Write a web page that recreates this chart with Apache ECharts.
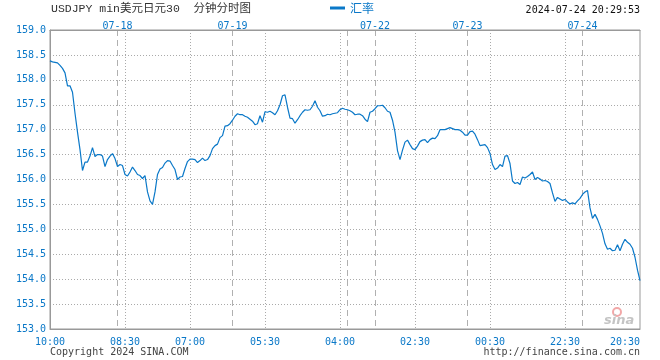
<!DOCTYPE html>
<html><head><meta charset="utf-8">
<script src="https://cdn.jsdelivr.net/npm/echarts@6/dist/echarts.min.js"></script>
<style>html,body{margin:0;padding:0;background:#fff}#c{width:660px;height:360px}</style>
</head><body><div id="c"></div>
<script>
// USDJPY 30-minute rates
const rates = [
158.38,158.36,158.35,158.34,158.29,158.23,158.14,157.88,157.88,157.75,
157.33,156.95,156.60,156.18,156.35,156.35,156.47,156.64,156.46,156.50,
156.50,156.47,156.26,156.40,156.47,156.52,156.42,156.26,156.30,156.28,
156.10,156.07,156.15,156.25,156.18,156.10,156.08,156.02,156.08,155.75,
155.57,155.50,155.75,156.10,156.21,156.24,156.33,156.38,156.37,156.28,
156.20,156.00,156.05,156.06,156.22,156.36,156.41,156.41,156.40,156.34,
156.38,156.43,156.38,156.40,156.48,156.62,156.68,156.71,156.84,156.88,
157.07,157.08,157.12,157.19,157.27,157.32,157.30,157.30,157.27,157.25,
157.21,157.17,157.10,157.12,157.28,157.15,157.36,157.35,157.37,157.34,
157.30,157.38,157.50,157.68,157.70,157.45,157.23,157.22,157.13,157.20,
157.28,157.35,157.40,157.39,157.40,157.47,157.58,157.45,157.38,157.27,
157.28,157.31,157.30,157.32,157.33,157.34,157.40,157.43,157.41,157.40,
157.38,157.35,157.30,157.31,157.31,157.28,157.21,157.16,157.35,157.37,
157.42,157.48,157.48,157.49,157.44,157.37,157.35,157.19,156.95,156.58,
156.40,156.59,156.75,156.79,156.70,156.62,156.60,156.67,156.76,156.79,
156.80,156.74,156.80,156.83,156.82,156.88,157.00,157.00,157.00,157.02,
157.04,157.02,157.00,157.00,156.99,156.95,156.89,156.89,156.96,156.97,
156.91,156.80,156.68,156.69,156.70,156.64,156.52,156.30,156.20,156.23,
156.30,156.26,156.47,156.48,156.32,155.97,155.92,155.94,155.90,156.05,
156.03,156.06,156.10,156.15,156.00,156.04,156.01,155.97,155.98,155.96,
155.92,155.73,155.56,155.64,155.61,155.58,155.60,155.55,155.51,155.53,
155.51,155.57,155.62,155.70,155.75,155.78,155.43,155.22,155.30,155.20,
155.07,154.92,154.71,154.60,154.62,154.57,154.58,154.69,154.57,154.70,
154.80,154.74,154.70,154.62,154.44,154.18,153.97
];
const timeTickIdx = [0, 30, 56, 86, 116, 146, 176, 206, 236];
const timeTickLabels = ['10:00','08:30','07:00','05:30','04:00','02:30','00:30','22:30','20:30'];
const dayTickIdx = [27, 73, 119, 130, 167, 213];
const dayTickLabels = ['07-18','07-19','','07-22','07-23','07-24'];
const yMin = 153.0, yMax = 159.0, yStep = 0.5;
const categories = rates.map((_, i) => String(i));

const BLUE = '#0a78c8';
const MONO = "'DejaVu Sans Mono', 'Liberation Mono', monospace";
const chart = echarts.init(document.getElementById('c'), null, {renderer: 'canvas'});
chart.setOption({
  animation: false,
  backgroundColor: '#fff',
  title: {
    text: 'USDJPY min美元日元30  分钟分时图',
    left: 51, top: 3, padding: 0,
    textStyle: {fontFamily: "'Liberation Mono', 'Noto Sans CJK SC', monospace", fontSize: 11.5, fontWeight: 'normal', color: '#333'}
  },
  legend: {
    data: ['汇率'], left: 330, top: 2, padding: 0,
    icon: 'rect', itemWidth: 15, itemHeight: 3, itemGap: 5,
    textStyle: {color: BLUE, fontSize: 12, fontFamily: "'Noto Sans CJK SC'", padding: [0, 0, 0, 0]}
  },
  grid: {left: 50, right: 20, top: 30, bottom: 31, show: true, borderColor: '#999', borderWidth: 1, backgroundColor: '#fff'},
  xAxis: [{
    type: 'category', data: categories, boundaryGap: false, position: 'bottom',
    axisLine: {show: true, lineStyle: {color: '#999'}},
    axisTick: {show: false},
    axisLabel: {
      interval: (i) => timeTickIdx.includes(i),
      formatter: (v) => timeTickLabels[timeTickIdx.indexOf(Number(v))] || '',
      color: BLUE, fontFamily: MONO, fontSize: 10, margin: 8,
      alignMaxLabel: 'right', showMaxLabel: true, showMinLabel: true
    },
    splitLine: {show: true, interval: (i) => timeTickIdx.includes(i) && i !== 0 && i !== rates.length - 1,
      lineStyle: {color: '#aaa', type: [1, 2], width: 1}}
  }, {
    type: 'category', data: categories, boundaryGap: false, position: 'top',
    axisLine: {show: true, lineStyle: {color: '#999'}},
    axisTick: {show: false},
    axisLabel: {
      interval: (i) => dayTickIdx.includes(i),
      formatter: (v) => dayTickLabels[dayTickIdx.indexOf(Number(v))] || '',
      color: BLUE, fontFamily: MONO, fontSize: 10, margin: -1
    },
    splitLine: {show: true, interval: (i) => dayTickIdx.includes(i),
      lineStyle: {color: '#b0b0b0', type: [6, 4], width: 1}}
  }],
  yAxis: {
    type: 'value', min: yMin, max: yMax, interval: yStep,
    axisLine: {show: true, lineStyle: {color: '#999'}},
    axisTick: {show: false},
    axisLabel: {formatter: (v) => v.toFixed(1), color: BLUE, fontFamily: MONO, fontSize: 10, margin: 4},
    splitLine: {show: true, lineStyle: {color: '#aaa', type: [1, 2], width: 1}}
  },
  series: [{
    name: '汇率', type: 'line', data: rates, xAxisIndex: 0,
    showSymbol: false, symbol: 'none',
    lineStyle: {color: BLUE, width: 1.2},
    itemStyle: {color: BLUE}
  }],
  graphic: [
    {type: 'text', right: 20, top: 5, style: {text: '2024-07-24 20:29:53', fill: '#111', font: "10px 'DejaVu Sans Mono'"}},
    {type: 'text', left: 50, top: 347, style: {text: 'Copyright 2024 SINA.COM', fill: '#444', font: "10px 'DejaVu Sans Mono'"}},
    {type: 'text', right: 20, top: 347, style: {text: 'http://finance.sina.com.cn', fill: '#444', font: "10px 'DejaVu Sans Mono'"}},
    {type: 'circle', shape: {cx: 617, cy: 312, r: 4}, style: {fill: 'none', stroke: '#f2a8a8', lineWidth: 2}, z: 5},
    {type: 'text', left: 604, top: 314, style: {text: 'sina', fill: '#c4c4c4', font: "italic bold 13px 'DejaVu Sans'"}, z: 5}
  ]
});
</script>
</body></html>
